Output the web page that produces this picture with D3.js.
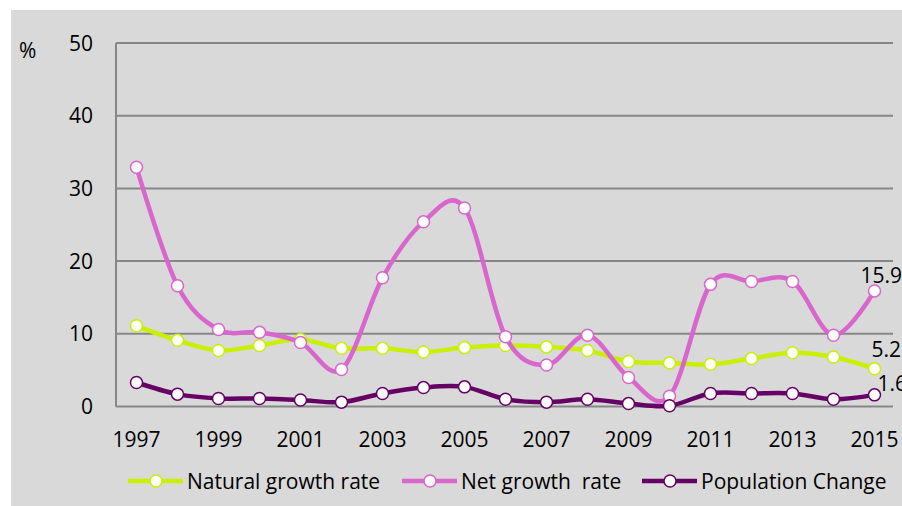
<!DOCTYPE html>
<meta charset="utf-8">
<style>
    body { margin: 0; background: #fff; }
    svg { display: block; font-family: "Open Sans", "Noto Sans", sans-serif; }
    .grid line { stroke: #878787; stroke-width: 2; }
    .tick-label { font-size: 21px; fill: #000; }
    .legend text { font-size: 21px; fill: #000; }
</style>
<svg width="902" height="506"></svg>
<script src="https://cdnjs.cloudflare.com/ajax/libs/d3/7.8.5/d3.min.js"></script>
<script>

    // data
    var years = d3.range(1997, 2016);
    var yearLabels = ["1997", "1999", "2001", "2003", "2005", "2007", "2009", "2011", "2013", "2015"];
    var yTicks = [0, 10, 20, 30, 40, 50];

    var naturalGrowth = [11.1, 9.1, 7.7, 8.4, 9.2, 8.0, 8.0, 7.5, 8.1, 8.4, 8.2, 7.7, 6.2, 6.0, 5.8, 6.6, 7.4, 6.8, 5.2];
    var netGrowth = [32.9, 16.6, 10.6, 10.2, 8.8, 5.1, 17.7, 25.4, 27.3, 9.6, 5.7, 9.8, 4.0, 1.4, 16.8, 17.2, 17.2, 9.8, 15.9];
    var popChange = [3.3, 1.7, 1.1, 1.1, 0.9, 0.6, 1.8, 2.6, 2.7, 1.0, 0.6, 1.0, 0.4, 0.1, 1.8, 1.8, 1.8, 1.0, 1.6];

    var seriesNames = ["Natural growth rate", "Net growth  rate", "Population Change"];
    var seriesColors = ["#c8f000", "#d966cc", "#660066"];

    //begin: layout conf.
    var svg = d3.select("svg"),
        plot = {left: 116, right: 895, top: 43, bottom: 406.5};
    //end: layout conf.

    svg.append("rect")
        .attr("x", 11).attr("y", 10)
        .attr("width", 891).attr("height", 496)
        .attr("fill", "#d9d9d9");

    var x = d3.scaleBand()
        .domain(years)
        .range([plot.left, plot.right]);

    var y = d3.scaleLinear()
        .domain([0, 50])
        .range([plot.bottom, plot.top]);

    function cx(d, i) { return x(years[i]) + x.bandwidth() / 2; }

    // gridlines
    svg.append("g").attr("class", "grid")
        .selectAll("line")
        .data(yTicks)
        .join("line")
        .attr("x1", plot.left).attr("x2", plot.right - 2)
        .attr("y1", function(d) { return y(d); })
        .attr("y2", function(d) { return y(d); });

    svg.append("line")
        .attr("x1", plot.left).attr("x2", plot.left)
        .attr("y1", plot.top).attr("y2", plot.bottom)
        .attr("stroke", "#878787").attr("stroke-width", 2);

    // y labels
    svg.append("g")
        .selectAll("text")
        .data(yTicks)
        .join("text")
        .attr("class", "tick-label")
        .attr("x", 93)
        .attr("y", function(d) { return y(d) + 7.5; })
        .attr("text-anchor", "end")
        .text(function(d) { return d; });

    svg.append("text")
        .attr("class", "tick-label")
        .attr("x", 19).attr("y", 58)
        .text("%");

    // x labels
    svg.append("g")
        .selectAll("text")
        .data(yearLabels)
        .join("text")
        .attr("class", "tick-label")
        .attr("x", function(d) { return x(+d) + x.bandwidth() / 2; })
        .attr("y", 447)
        .attr("text-anchor", "middle")
        .text(function(d) { return d; });

    var line = d3.line()
        .x(cx)
        .y(function(d) { return y(d); })
        .curve(d3.curveCatmullRom.alpha(0));

    var allSeries = [naturalGrowth, netGrowth, popChange];

    allSeries.forEach(function(values, k) {
        var g = svg.append("g");
        g.append("path")
            .attr("d", line(values))
            .attr("fill", "none")
            .attr("stroke", seriesColors[k])
            .attr("stroke-width", 4.5)
            .attr("stroke-linejoin", "round");
        g.selectAll("circle")
            .data(values)
            .join("circle")
            .attr("cx", cx)
            .attr("cy", function(d) { return y(d); })
            .attr("r", 6)
            .attr("fill", "#fff")
            .attr("stroke", seriesColors[k])
            .attr("stroke-width", 1.5);
    });

    // end-of-line value labels
    var endLabels = [
        {v: netGrowth[18], dx: -14, dy: -8},
        {v: naturalGrowth[18], dx: -3, dy: -12},
        {v: popChange[18], dx: 3, dy: -4}
    ];
    svg.append("g")
        .selectAll("text")
        .data(endLabels)
        .join("text")
        .attr("class", "tick-label")
        .attr("x", function(d) { return x(2015) + x.bandwidth() / 2 + d.dx; })
        .attr("y", function(d) { return y(d.v) + d.dy; })
        .text(function(d) { return d.v.toFixed(1); });

    // legend
    var legendX = [128, 402, 642];
    var legend = svg.append("g").attr("class", "legend")
        .selectAll("g")
        .data(seriesNames)
        .join("g")
        .attr("transform", function(d, i) { return "translate(" + legendX[i] + ",481)"; });

    legend.append("line")
        .attr("x1", 0).attr("x2", 55)
        .attr("stroke", function(d, i) { return seriesColors[i]; })
        .attr("stroke-width", 4.5);
    legend.append("circle")
        .attr("cx", 28).attr("r", 6)
        .attr("fill", "#fff")
        .attr("stroke", function(d, i) { return seriesColors[i]; })
        .attr("stroke-width", 1.5);
    legend.append("text")
        .attr("x", 59).attr("y", 7.5)
        .attr("xml:space", "preserve")
        .style("white-space", "pre")
        .text(function(d) { return d; });

</script>
